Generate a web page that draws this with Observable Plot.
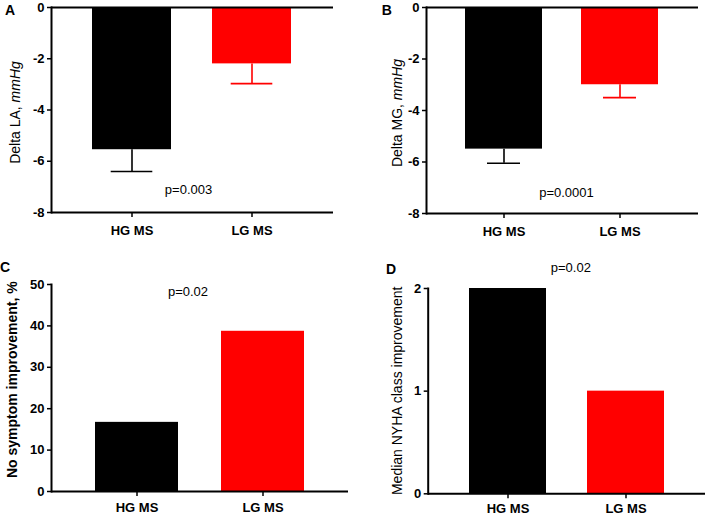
<!DOCTYPE html>
<html><head><meta charset="utf-8">
<script src="https://cdn.jsdelivr.net/npm/d3@7"></script>
<script src="https://cdn.jsdelivr.net/npm/@observablehq/plot@0.6"></script>
<style>
body{margin:0;background:#fff;}
#root{position:relative;width:709px;height:517px;background:#fff;font-family:"Liberation Sans",Arial,sans-serif;}
.panel{position:absolute;}
</style></head><body><div id="root"></div>
<script>
// ---- data ----
const groups = ["HG MS", "LG MS"];
const colors = ["#000000", "#ff0000"];
const laMeans = [-5.55, -2.2];
const laErr = [0.85, 0.77];
const mgMeans = [-5.5, -3.0];
const mgErr = [0.55, 0.5];
const noImprovePct = [16.7, 38.7];
const nyhaMedian = [2, 1];
const yTicksDelta = [-8, -6, -4, -2, 0];
const yTicksPct = [0, 10, 20, 30, 40, 50];
const yTicksNyha = [0, 1, 2];
const pValues = ["p=0.003", "p=0.0001", "p=0.02", "p=0.02"];
const panelLetters = ["A", "B", "C", "D"];
const yTitles = [["Delta LA, ", "mmHg"], ["Delta MG, ", "mmHg"], ["No symptom improvement, %", ""], ["Median NYHA class improvement", ""]];

// ---- layout ----
const panels = [
  {values: laMeans, err: laErr, ticks: yTicksDelta, domain: [-8, 0], zeroTop: true,
   left: 0, top: 0, width: 354, height: 258, mL: 51, mR: 21, mT: 7, mB: 46, pad: 0.34, capInset: 18.7, xPad: 8,
   pY: -7.1, pDx: -4, tX: 20, tY: 112.5, tBold: false, lX: 10, lY: 14.5},
  {values: mgMeans, err: mgErr, ticks: yTicksDelta, domain: [-8, 0], zeroTop: true,
   left: 355, top: 0, width: 354, height: 258, mL: 71, mR: 11, mT: 7, mB: 45, pad: 0.335, capInset: 22, xPad: 8,
   pY: -7.2, pDx: 4, tX: 46.7, tY: 113, tBold: false, lX: 31.7, lY: 15},
  {values: noImprovePct, err: null, ticks: yTicksPct, domain: [0, 50], zeroTop: false,
   left: 0, top: 258, width: 354, height: 259, mL: 51, mR: 6, mT: 26, mB: 26, pad: 0.34, capInset: 0, xPad: 6,
   pY: 48.3, pDx: -12, tX: 16.7, tY: 121.7, tBold: true, lX: 5, lY: 13.7},
  {values: nyhaMedian, err: null, ticks: yTicksNyha, domain: [0, 2], zeroTop: false,
   left: 355, top: 258, width: 354, height: 259, mL: 72.7, mR: 4, mT: 30, mB: 23.7, pad: 0.35, capInset: 0, xPad: 5,
   pY: 2.2, pDx: 4, tX: 46.7, tY: 132.8, tBold: false, lX: 36, lY: 16}
];

const root = document.getElementById("root");

panels.forEach((c, i) => {
  const data = groups.map((g, j) => ({g, v: c.values[j], lo: c.err ? c.values[j] - c.err[j] : null}));
  const marks = [];
  if (c.err) {
    marks.push(Plot.ruleX(data, {x: "g", y1: "v", y2: "lo", stroke: "g", strokeWidth: 1.6}));
    marks.push(Plot.tickY(data, {x: "g", y: "lo", stroke: "g", strokeWidth: 1.6, insetLeft: c.capInset, insetRight: c.capInset}));
  }
  marks.push(Plot.barY(data, {x: "g", y1: 0, y2: "v", fill: "g"}));
  marks.push(Plot.axisY({ticks: c.ticks, tickSize: 4, tickPadding: 3, fontWeight: "bold", fontSize: 13, tickFormat: d => String(d), strokeWidth: 1.5, label: null}));
  marks.push(Plot.axisX({tickSize: 5, tickPadding: c.xPad, fontWeight: "bold", fontSize: 13, strokeWidth: 1.5, label: null}));
  marks.push(Plot.ruleY([c.domain[0]], {strokeWidth: 2}));
  if (c.zeroTop) marks.push(Plot.ruleY([0], {strokeWidth: 2}));
  marks.push(Plot.frame({anchor: "left", strokeWidth: 2}));
  marks.push(Plot.text([{label: pValues[i], y: c.pY}], {text: "label", y: "y", dx: c.pDx, fontSize: 13, fill: "black"}));

  const plot = Plot.plot({
    width: c.width, height: c.height,
    marginLeft: c.mL, marginRight: c.mR, marginTop: c.mT, marginBottom: c.mB,
    x: {domain: groups, padding: c.pad, label: null},
    y: {domain: c.domain, label: null},
    color: {domain: groups, range: colors},
    style: {fontFamily: "'Liberation Sans', Arial, sans-serif", background: "white", color: "black", overflow: "visible"},
    marks
  });
  const svg = d3.select(plot);
  const t = svg.append("text")
    .attr("transform", `translate(${c.tX},${c.tY}) rotate(-90)`)
    .attr("text-anchor", "middle").attr("font-size", 14)
    .attr("font-weight", c.tBold ? "bold" : "normal").attr("fill", "black");
  t.append("tspan").text(yTitles[i][0]);
  if (yTitles[i][1]) t.append("tspan").attr("font-style", "italic").text(yTitles[i][1]);
  svg.append("text").attr("x", c.lX).attr("y", c.lY).attr("font-size", 14).attr("font-weight", "bold").attr("fill", "black").text(panelLetters[i]);

  const div = document.createElement("div");
  div.className = "panel";
  div.style.left = c.left + "px";
  div.style.top = c.top + "px";
  div.appendChild(plot);
  root.appendChild(div);
});
</script></body></html>
